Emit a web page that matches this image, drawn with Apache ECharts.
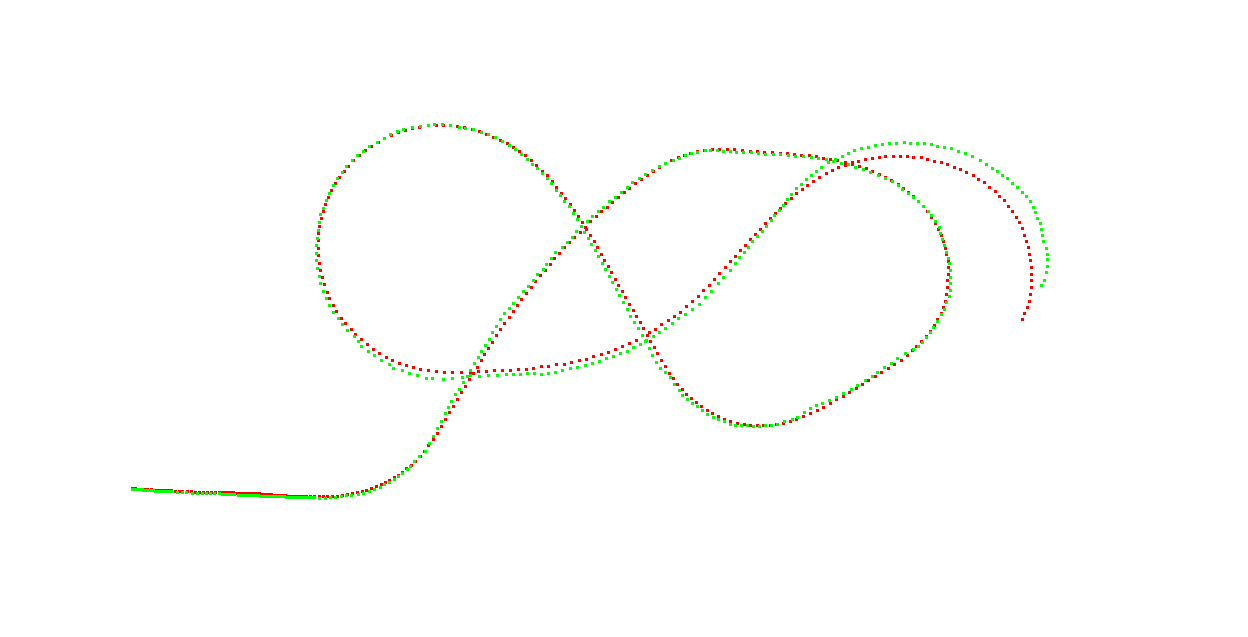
<!DOCTYPE html>
<html>
<head>
<meta charset="utf-8">
<script src="https://cdn.jsdelivr.net/npm/echarts@6/dist/echarts.min.js"></script>
<style>html,body{margin:0;padding:0;background:#fff;}#c{width:1248px;height:637px;}</style>
</head>
<body>
<div id="c"></div>
<script>
// Stroke samples (x, y in drawing units, y grows downward)
const redPoints = [
[132,488],[135,488],[140,489],[144,489],[147,489],[151,489],[153,490],[155,490],[157,490],[159,490],[161,490],[163,490],[165,490],[167,490],[169,490],[171,490],[175,491],[179,491],[182,491],[187,491],[191,491],[195,492],[199,492],[203,492],[207,492],[211,492],[215,492],[219,492],[222,492],[224,492],[226,492],[228,492],[230,492],[233,492],[235,493],[237,493],[239,493],[241,493],[243,493],[245,493],[247,493],[249,493],[251,493],[253,493],[255,493],[257,493],[259,493],[261,494],[263,494],[265,494],[267,494],[269,494],[271,494],[273,495],[275,495],[277,495],[279,495],[281,495],[283,495],[285,495],[287,496],[289,496],[291,496],[293,496],[295,496],[297,496],[299,496],[301,496],[303,496],[306,496],[310,496],[314,496],[319,496],[323,496],[327,496],[332,496],[337,496],[342,495],[347,494],[352,493],[357,492],[362,491],[366,490],[371,488],[376,486],[381,484],[385,482],[389,480],[394,477],[398,475],[402,472],[406,468],[411,465],[415,461],[420,456],[424,451],[428,445],[433,439],[437,433],[441,426],[445,419],[449,412],[453,406],[457,399],[461,392],[465,386],[469,379],[473,373],[477,367],[481,360],[484,354],[488,348],[492,342],[496,335],[500,329],[504,323],[509,317],[513,311],[517,305],[521,299],[526,293],[531,287],[535,281],[540,275],[545,270],[550,264],[554,258],[559,253],[564,247],[569,242],[574,237],[580,232],[585,227],[590,221],[596,216],[601,211],[607,207],[612,202],[618,197],[624,192],[629,188],[635,183],[641,179],[647,175],[653,171],[659,167],[665,163],[671,160],[678,157],[684,155],[690,153],[697,151],[704,150],[712,149],[719,149],[727,149],[734,149],[742,150],[750,151],[757,151],[764,152],[772,152],[780,153],[787,153],[794,154],[801,155],[809,155],[816,156],[823,158],[830,159],[837,160],[845,162],[852,164],[859,166],[866,168],[872,171],[879,174],[885,177],[891,180],[898,184],[903,188],[908,192],[913,196],[918,201],[923,206],[927,211],[931,217],[935,223],[938,229],[941,235],[943,241],[945,248],[946,254],[948,261],[948,267],[948,274],[947,280],[947,287],[946,294],[945,301],[943,307],[941,313],[937,319],[934,325],[930,331],[926,336],[921,341],[916,346],[912,350],[907,355],[901,360],[894,364],[888,368],[881,372],[875,376],[868,380],[862,384],[856,388],[849,392],[843,396],[836,399],[830,403],[823,407],[817,410],[810,413],[803,416],[796,419],[790,421],[783,423],[776,424],[770,425],[763,425],[757,425],[750,425],[744,424],[737,423],[730,421],[724,419],[718,416],[712,413],[707,410],[701,406],[696,402],[691,398],[686,394],[682,389],[677,384],[673,378],[669,373],[665,366],[661,360],[657,353],[654,347],[650,341],[647,335],[643,328],[640,322],[636,316],[633,310],[629,304],[625,297],[622,291],[618,285],[615,279],[611,272],[608,266],[604,260],[601,254],[597,247],[594,241],[590,235],[586,229],[582,222],[578,216],[574,210],[570,204],[565,198],[561,193],[556,187],[552,181],[547,175],[542,171],[536,165],[531,160],[525,155],[519,151],[513,147],[507,143],[500,140],[493,137],[486,134],[479,131],[472,129],[464,127],[457,126],[450,125],[443,125],[436,125],[428,125],[419,127],[412,128],[405,130],[398,132],[391,135],[384,138],[378,142],[371,146],[365,150],[359,155],[353,160],[348,166],[344,171],[339,177],[335,183],[331,190],[328,197],[325,204],[323,211],[321,218],[319,226],[318,233],[318,240],[318,248],[318,255],[319,263],[320,270],[322,277],[324,284],[327,292],[329,298],[333,305],[336,311],[341,318],[345,323],[351,329],[355,334],[361,339],[367,344],[373,349],[379,353],[386,357],[392,360],[399,363],[406,365],[413,367],[420,369],[428,370],[436,371],[444,372],[452,372],[461,372],[470,372],[478,371],[486,371],[494,370],[502,370],[510,370],[518,369],[526,369],[533,368],[541,366],[548,366],[556,364],[564,364],[571,362],[579,360],[586,359],[593,356],[601,354],[608,352],[615,349],[622,346],[629,343],[636,340],[642,335],[649,332],[655,329],[661,324],[668,320],[674,316],[680,312],[686,306],[692,301],[698,296],[703,290],[709,285],[714,279],[719,273],[725,267],[730,261],[735,256],[740,250],[745,245],[750,239],[755,234],[760,229],[765,223],[770,218],[775,213],[780,208],[785,203],[791,198],[796,193],[802,189],[807,185],[813,181],[819,177],[826,173],[832,170],[838,167],[845,165],[852,162],[858,161],[865,159],[872,158],[879,157],[885,156],[893,156],[900,156],[907,156],[913,157],[921,157],[927,159],[934,161],[941,162],[947,164],[954,167],[960,169],[966,172],[973,175],[978,179],[984,182],[989,187],[995,191],[999,196],[1004,200],[1008,206],[1012,211],[1016,217],[1019,222],[1022,228],[1024,235],[1026,241],[1028,247],[1029,254],[1030,260],[1031,267],[1031,274],[1031,280],[1031,287],[1030,294],[1029,301],[1027,307],[1024,313],[1022,319]
];
const greenPoints = [
[132,489],[134,489],[136,489],[138,489],[140,489],[142,489],[143,490],[145,490],[147,490],[149,490],[151,490],[153,490],[155,491],[157,491],[159,491],[161,491],[163,491],[165,491],[167,491],[169,491],[171,491],[177,492],[182,492],[186,492],[192,493],[197,493],[202,493],[206,493],[210,493],[214,493],[219,493],[222,494],[224,494],[226,494],[228,494],[230,494],[232,494],[234,494],[238,495],[240,495],[242,495],[244,495],[246,495],[248,495],[250,495],[252,495],[254,495],[256,495],[258,495],[260,496],[262,496],[264,496],[266,496],[268,496],[270,496],[272,496],[274,496],[276,496],[278,496],[280,496],[282,496],[284,496],[286,497],[288,497],[290,497],[292,497],[294,497],[296,497],[298,497],[300,497],[302,497],[304,497],[306,497],[308,497],[310,497],[312,497],[314,497],[319,498],[325,498],[330,497],[335,497],[341,496],[346,495],[351,495],[358,494],[363,493],[369,491],[374,489],[380,487],[384,484],[389,482],[394,479],[398,476],[402,473],[407,469],[410,466],[414,461],[419,456],[425,451],[429,443],[433,436],[437,428],[441,421],[445,413],[448,407],[451,401],[455,394],[459,389],[463,382],[467,376],[470,370],[474,363],[478,357],[481,351],[485,345],[489,339],[492,332],[496,326],[500,319],[504,313],[509,308],[513,303],[518,297],[523,291],[528,286],[533,280],[537,274],[543,269],[546,264],[551,258],[555,252],[562,247],[567,242],[572,237],[576,231],[581,226],[587,221],[592,216],[598,211],[603,207],[609,201],[615,197],[621,192],[627,187],[632,182],[639,178],[645,174],[652,170],[659,166],[665,163],[673,160],[679,158],[685,155],[691,153],[697,152],[705,150],[710,150],[717,150],[723,151],[730,151],[736,152],[743,152],[751,152],[758,153],[765,154],[773,154],[780,154],[788,155],[795,156],[803,156],[811,157],[818,158],[826,159],[833,161],[841,163],[848,164],[855,167],[863,169],[870,172],[878,175],[885,178],[892,181],[898,185],[902,189],[908,193],[913,197],[918,201],[923,206],[928,211],[931,215],[935,221],[939,227],[940,233],[942,239],[944,245],[946,252],[948,258],[949,263],[950,270],[950,277],[950,283],[950,290],[949,296],[946,302],[944,309],[941,314],[937,321],[933,327],[930,332],[926,337],[922,342],[918,346],[913,349],[905,353],[897,358],[891,363],[884,367],[877,372],[872,376],[865,380],[857,385],[851,389],[843,393],[836,397],[829,400],[822,403],[816,405],[810,408],[804,412],[797,417],[792,419],[784,421],[777,424],[771,425],[765,425],[759,426],[753,426],[747,425],[741,425],[735,425],[730,424],[724,421],[718,419],[713,417],[707,414],[702,410],[697,406],[692,403],[687,399],[682,395],[679,390],[674,384],[670,377],[665,372],[660,368],[656,362],[652,355],[649,348],[645,341],[642,335],[638,328],[634,322],[630,316],[627,309],[623,302],[619,295],[616,289],[612,282],[609,276],[605,269],[602,263],[598,256],[595,250],[591,244],[588,238],[584,232],[581,226],[577,219],[573,213],[569,206],[564,201],[560,195],[556,190],[551,183],[547,178],[542,173],[537,168],[532,164],[527,159],[521,154],[515,149],[509,145],[502,141],[495,137],[488,134],[481,132],[473,129],[465,128],[459,127],[450,125],[442,124],[434,124],[428,125],[420,126],[412,127],[403,129],[397,131],[390,134],[384,138],[377,142],[369,146],[363,151],[357,155],[352,160],[346,166],[342,172],[337,178],[333,185],[329,193],[326,200],[323,208],[320,214],[319,222],[318,230],[317,238],[316,245],[316,253],[316,260],[317,268],[319,276],[320,283],[323,291],[326,298],[329,305],[333,312],[338,318],[342,324],[347,330],[354,336],[358,341],[361,346],[368,351],[374,355],[381,360],[389,364],[393,368],[402,370],[409,373],[417,375],[426,378],[432,378],[443,379],[452,378],[462,377],[470,375],[479,376],[488,375],[497,375],[506,374],[513,374],[520,374],[527,373],[534,373],[541,374],[548,373],[555,372],[562,370],[570,368],[577,367],[585,365],[592,363],[599,361],[606,358],[613,356],[620,353],[627,351],[633,347],[640,344],[646,340],[653,336],[659,332],[665,328],[672,323],[678,318],[685,314],[692,309],[699,304],[705,297],[711,291],[718,283],[723,277],[730,270],[735,263],[739,257],[744,252],[748,247],[752,241],[757,236],[762,231],[766,226],[771,220],[774,215],[779,210],[783,205],[787,199],[791,194],[796,188],[801,184],[806,179],[811,175],[816,171],[821,167],[828,162],[835,159],[842,156],[848,153],[854,150],[861,148],[868,147],[875,145],[882,144],[889,143],[896,143],[904,142],[910,143],[917,143],[924,143],[931,144],[937,146],[944,147],[951,148],[958,151],[965,153],[972,156],[980,160],[986,164],[992,168],[997,171],[1002,175],[1007,178],[1012,183],[1017,187],[1022,192],[1026,196],[1030,201],[1033,207],[1035,212],[1037,218],[1040,223],[1041,229],[1042,235],[1043,241],[1046,248],[1047,254],[1047,259],[1047,266],[1046,272],[1044,280],[1041,285]
];
const seriesNames = ['red', 'green'];
const seriesColors = ['#ff0000', '#00ff00'];

const chart = echarts.init(document.getElementById('c'), null, {renderer: 'canvas'});
chart.setOption({
  animation: false,
  backgroundColor: '#ffffff',
  grid: {left: 0, right: 0, top: 0, bottom: 0, containLabel: false},
  xAxis: {type: 'value', min: 0, max: 1248, show: false},
  yAxis: {type: 'value', min: 0, max: 637, inverse: true, show: false},
  series: [redPoints, greenPoints].map((pts, i) => ({
    name: seriesNames[i],
    type: 'scatter',
    symbol: 'rect',
    symbolSize: 3,
    symbolOffset: [0.5, 0.5],
    itemStyle: {color: seriesColors[i], opacity: 1},
    data: pts
  }))
});
</script>
</body>
</html>
